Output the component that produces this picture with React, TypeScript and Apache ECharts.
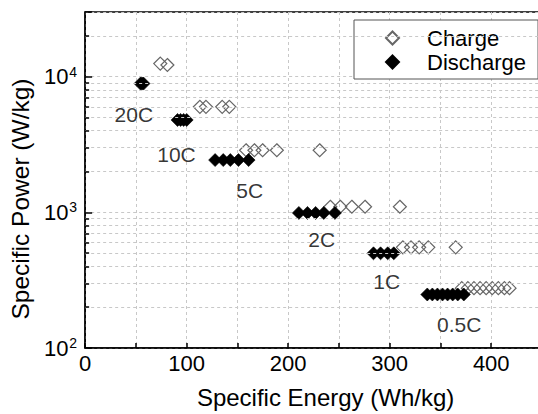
import React, { useEffect, useRef } from "react";
import * as echarts from "echarts";

// Charge points (Specific Energy Wh/kg, Specific Power W/kg)
const chargeEnergy = [74, 81, 113, 119, 135, 142, 158.5, 166.7, 174.8, 188.8, 231, 241.5, 251.3, 262.7, 275.7, 310, 313, 321, 329, 338, 365, 371, 377, 383, 389, 395, 401, 407, 413, 418];
const chargePower = [12500, 12200, 6000, 6000, 6000, 6000, 2870, 2870, 2870, 2870, 2870, 1100, 1100, 1100, 1100, 1100, 552, 552, 552, 552, 552, 276, 276, 276, 276, 276, 276, 276, 276, 276];

// Discharge points
const dischargeEnergy = [54.5, 56, 57.5, 91, 94, 97, 100, 128, 136, 143, 151, 161, 210.5, 219, 227, 235, 246, 284, 291, 298, 304, 337, 342, 347, 352, 357, 362, 367, 373];
const dischargePower = [8900, 8900, 8900, 4800, 4800, 4800, 4800, 2430, 2430, 2430, 2430, 2430, 990, 990, 990, 990, 990, 499, 499, 499, 499, 248, 248, 248, 248, 248, 248, 248, 248];

// Rate annotations
const rateLabels = ["20C", "10C", "5C", "2C", "1C", "0.5C"];
const labelEnergy = [48, 90, 162, 233, 297, 368.5];
const labelPower = [5285, 2685, 1459, 628, 308, 150];

// Axis values
const xTickLabels = [0, 100, 200, 300, 400];
const minorPower = [200, 300, 400, 500, 600, 700, 800, 900, 2000, 3000, 4000, 5000, 6000, 7000, 8000, 9000, 20000];

const FONT = "Liberation Sans, Arial, sans-serif";

export default function App() {
  const ref = useRef<HTMLDivElement>(null);
  useEffect(() => {
    if (!ref.current) return;
    const chart = echarts.init(ref.current, null, { renderer: "svg" });
    const zip = (xs: number[], ys: number[]) => xs.map((x, i) => [x, ys[i]]);
    const tickLen = 3.9; // data units along x for minor y ticks
    chart.setOption({
      animation: false,
      textStyle: { fontFamily: FONT, color: "#000" },
      grid: {
        left: 81,
        top: 12,
        right: 38,
        bottom: 60,
        show: true,
        borderColor: "#000",
        borderWidth: 1.5,
        backgroundColor: "transparent",
      },
      legend: {
        data: ["Charge", "Discharge"],
        orient: "vertical",
        left: 354,
        top: 20,
        padding: [7, 12, 6, 31],
        itemGap: 2,
        itemWidth: 13,
        itemHeight: 13,
        borderColor: "#555",
        borderWidth: 1,
        backgroundColor: "#fff",
        textStyle: { fontSize: 22, color: "#000", fontFamily: FONT, padding: [0, 0, 0, 23] },
      },
      xAxis: {
        type: "value",
        min: 0,
        max: 450,
        interval: 50,
        name: "Specific Energy (Wh/kg)",
        nameLocation: "middle",
        nameGap: 37,
        nameTextStyle: { fontSize: 24, color: "#000", fontFamily: FONT, padding: [0, 0, 0, 24] },
        axisLine: { lineStyle: { color: "#000", width: 1.5 } },
        axisTick: { inside: true, length: 5, lineStyle: { color: "#000", width: 1.5 } },
        axisLabel: {
          fontSize: 22,
          color: "#000",
          margin: 4,
          formatter: (v: number) => (xTickLabels.indexOf(v) >= 0 ? String(v) : ""),
        },
        splitLine: { show: true, lineStyle: { color: "#c8c8c8", type: [3, 3], width: 1 } },
      },
      yAxis: {
        type: "log",
        logBase: 10,
        min: 100,
        max: 30000,
        name: "Specific Power (W/kg)",
        nameLocation: "middle",
        nameGap: 48,
        nameTextStyle: { fontSize: 24.5, color: "#000", fontFamily: FONT, padding: [0, 38, 0, 0] },
        axisLine: { lineStyle: { color: "#000", width: 1.5 } },
        axisTick: { inside: true, length: 7, lineStyle: { color: "#000", width: 1.5 } },
        axisLabel: {
          margin: 8,
          formatter: (v: number) => {
            const e = Math.log10(v);
            if (Math.abs(e - Math.round(e)) > 1e-6) return "";
            return "{n|10}{e|" + Math.round(e) + "}";
          },
          rich: {
            n: { fontSize: 22, color: "#000", fontFamily: FONT },
            e: { fontSize: 14, color: "#000", fontFamily: FONT, verticalAlign: "top", padding: [0, 0, 10, 1] },
          },
        },
        splitLine: { show: true, lineStyle: { color: "#c8c8c8", type: [3, 3], width: 1 } },
      },
      series: [
        {
          name: "Charge",
          type: "scatter",
          symbol: "diamond",
          symbolSize: 13,
          symbolKeepAspect: true,
          itemStyle: { color: "rgba(255,255,255,0)", borderColor: "#666", borderWidth: 1.2, opacity: 1 },
          data: zip(chargeEnergy, chargePower),
          markLine: {
            silent: true,
            symbol: "none",
            label: { show: false },
            animation: false,
            data: [
              ...minorPower.map((p) => [
                { coord: [0, p], lineStyle: { color: "#c8c8c8", type: [3, 3], width: 1 } },
                { coord: [450, p] },
              ]),
              ...minorPower.map((p) => [
                { coord: [0, p], lineStyle: { color: "#000", type: "solid", width: 1.5 } },
                { coord: [tickLen, p] },
              ]),
            ],
          },
          z: 3,
        },
        {
          name: "Discharge",
          type: "scatter",
          symbol: "diamond",
          symbolSize: 13,
          symbolKeepAspect: true,
          itemStyle: { color: "#000", borderColor: "#000", borderWidth: 0.6, opacity: 1 },
          data: zip(dischargeEnergy, dischargePower),
          z: 4,
        },
        {
          name: "labels",
          type: "scatter",
          symbolSize: 0,
          silent: true,
          data: rateLabels.map((n, i) => ({ name: n, value: [labelEnergy[i], labelPower[i]] })),
          label: {
            show: true,
            position: "inside",
            formatter: (p: any) => p.name,
            fontSize: 21,
            color: "#000",
            fontFamily: FONT,
          },
          z: 5,
        },
      ],
    });
    return () => chart.dispose();
  }, []);
  return (
    <div style={{ position: "fixed", left: 0, top: 0, width: 538, height: 414, overflow: "hidden", background: "#fff" }}>
      <div ref={ref} style={{ width: 580, height: 414 }} />
    </div>
  );
}
